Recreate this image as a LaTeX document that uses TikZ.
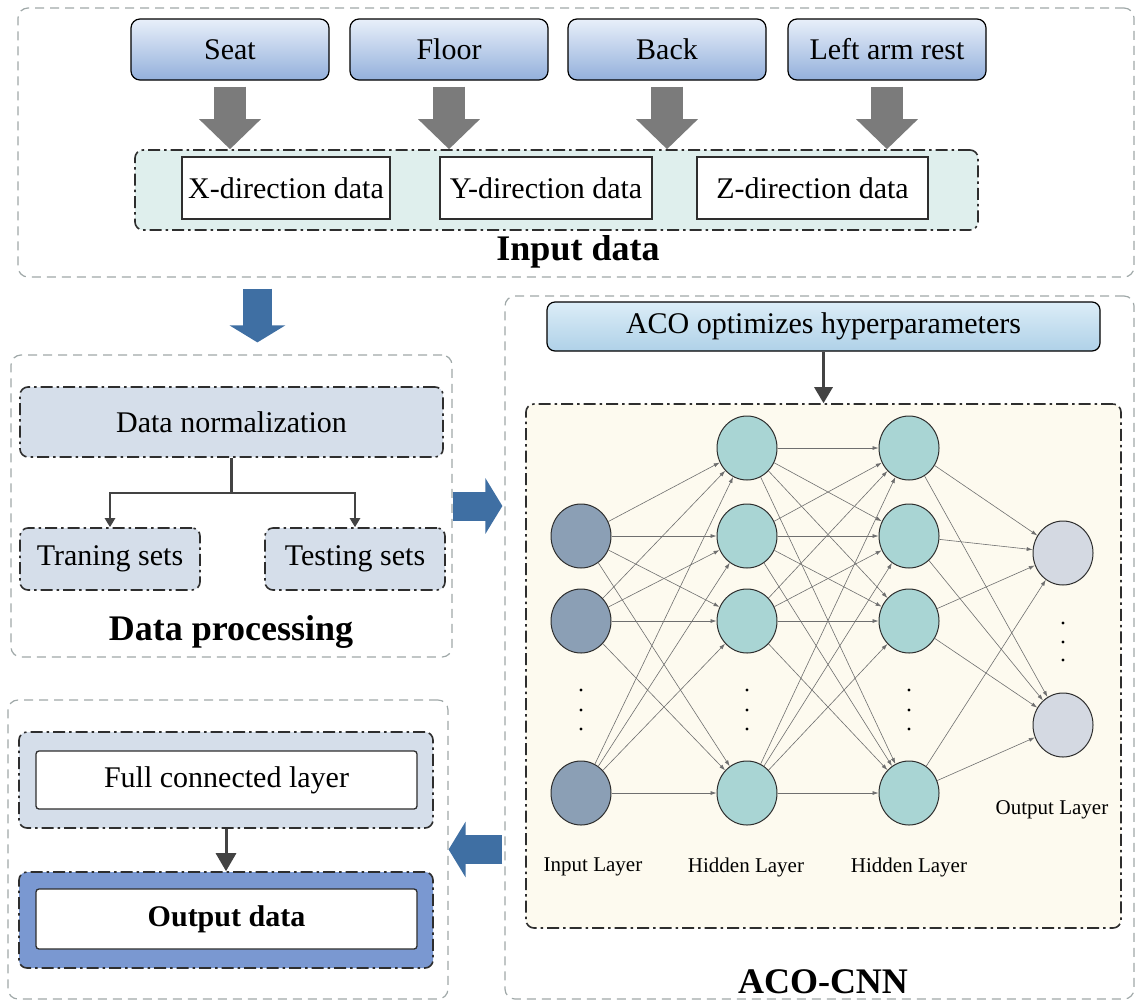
\documentclass[tikz,border=0pt]{standalone}
\usepackage{fontspec}
\setmainfont{Liberation Serif}
\usetikzlibrary{arrows.meta,positioning,calc,shapes.geometric}

\definecolor{groupgray}{HTML}{9FA8A8}
\definecolor{darkline}{HTML}{2E2E2E}
\definecolor{srctop}{HTML}{E8EFFA}
\definecolor{srcbot}{HTML}{93B0DB}
\definecolor{acotop}{HTML}{DCEDF7}
\definecolor{acobot}{HTML}{AFD1E8}
\definecolor{infill}{HTML}{DFEFED}
\definecolor{procfill}{HTML}{D5DEEA}
\definecolor{outfill}{HTML}{7A98D1}
\definecolor{netfill}{HTML}{FDFAEF}
\definecolor{inneuron}{HTML}{8B9FB5}
\definecolor{hidneuron}{HTML}{A9D5D4}
\definecolor{outneuron}{HTML}{D4D9E2}
\definecolor{fatgray}{HTML}{7B7B7B}
\definecolor{fatblue}{HTML}{3F6FA3}
\definecolor{edgegray}{HTML}{6F6F6F}

\newcommand{\normtxt}{\fontsize{30}{34}\selectfont}
\newcommand{\titletxt}{\fontsize{36}{40}\selectfont\bfseries}
\newcommand{\layertxt}{\fontsize{21}{24}\selectfont}

\tikzset{
  group/.style={draw=groupgray,dash pattern=on 9pt off 6pt,line width=1.2pt,rounded corners=10pt},
  dashdot/.style={draw=darkline,dash pattern=on 12pt off 4pt on 2.5pt off 4pt,line width=1.6pt,rounded corners=8pt},
  srcbox/.style={draw=black,line width=1.2pt,rounded corners=9pt,top color=srctop,bottom color=srcbot,
    minimum width=198pt,minimum height=61pt,font=\normtxt},
  databox/.style={draw=darkline,line width=1.3pt,fill=white,minimum height=62pt,font=\normtxt},
  neuron/.style={ellipse,draw=darkline,line width=1pt,minimum width=60pt,minimum height=64pt,inner sep=0pt},
  edge/.style={draw=edgegray,line width=0.6pt,-{Latex[length=6pt,width=4pt]}},
  conn/.style={draw=darkline!90,line width=2.5pt,-{Triangle[width=10pt,length=9pt]}},
  fatgrayarr/.style={draw=fatgray,line width=32pt,-{Triangle[width=60pt,length=30pt]}},
  fatbluearr/.style={draw=fatblue,line width=29pt,-{Triangle[width=55pt,length=17pt]}},
}

\begin{document}
\begin{tikzpicture}[x=1pt,y=-1pt]
\useasboundingbox (0,0) rectangle (1137,1002);

% Input data
\node[group,minimum width=1116pt,minimum height=269pt] (topbox) at (576,142.5) {};
\node[srcbox] (seat) at (230,49.5) {Seat};
\node[srcbox] (floor) at (449,49.5) {Floor};
\node[srcbox] (back) at (667,49.5) {Back};
\node[srcbox] (arm) at (887,49.5) {Left arm rest};
\node[dashdot,fill=infill,minimum width=843pt,minimum height=80pt] (inbox) at (556.5,190) {};
\node[databox,minimum width=208pt] (xdir) at (286,188) {X-direction data};
\node[databox,minimum width=212pt] (ydir) at (546,188) {Y-direction data};
\node[databox,minimum width=231pt] (zdir) at (812.5,188) {Z-direction data};
\node[font=\titletxt] (intitle) at (578,252) {Input data};

\foreach \n in {seat,floor,back,arm}
  \draw[fatgrayarr] ([yshift=-6pt]\n.south) -- (\n.south |- inbox.north);

% Data processing
\node[group,minimum width=441pt,minimum height=302pt] (dpbox) at (231.5,506) {};
\node[dashdot,fill=procfill,minimum width=423pt,minimum height=70pt,font=\normtxt] (norm) at (231.5,422) {Data normalization};
\node[dashdot,fill=procfill,minimum width=180pt,minimum height=62pt,font=\normtxt] (train) at (110,559) {Traning sets};
\node[dashdot,fill=procfill,minimum width=180pt,minimum height=62pt,font=\normtxt] (test) at (355,559) {Testing sets};
\node[font=\titletxt] (dptitle) at (231,632) {Data processing};

\draw[conn] (norm.south) -- ++(0,35) -| (train.north);
\draw[conn] (norm.south) -- ++(0,35) -| (test.north);

% ACO-CNN
\node[group,minimum width=629pt,minimum height=703pt] (acobox) at (819.5,647.5) {};
\node[draw=black,line width=1.2pt,rounded corners=8pt,top color=acotop,bottom color=acobot,
  minimum width=553pt,minimum height=49pt,font=\normtxt] (acoopt) at (823.5,326.5) {ACO optimizes hyperparameters};
\node[dashdot,fill=netfill,minimum width=595pt,minimum height=524pt] (nnbox) at (823.5,666) {};
\node[font=\titletxt] (acotitle) at (823,982) {ACO-CNN};

\draw[draw=darkline!90,line width=3pt,-{Triangle[width=18pt,length=16pt]}] (acoopt.south) -- (nnbox.north);

% neurons
\node[neuron,fill=inneuron] (in1) at (581,536) {};
\node[neuron,fill=inneuron] (in2) at (581,621) {};
\node[neuron,fill=inneuron] (in3) at (581,793) {};
\foreach \i/\y in {1/448,2/536,3/621,4/793}{
  \node[neuron,fill=hidneuron] (ha\i) at (747,\y) {};
  \node[neuron,fill=hidneuron] (hb\i) at (909,\y) {};
}
\node[neuron,fill=outneuron] (out1) at (1063,553) {};
\node[neuron,fill=outneuron] (out2) at (1063,725) {};

\foreach \a in {in1,in2,in3}
  \foreach \b in {ha1,ha2,ha3,ha4}
    \draw[edge] (\a) -- (\b);
\foreach \a in {ha1,ha2,ha3,ha4}
  \foreach \b in {hb1,hb2,hb3,hb4}
    \draw[edge] (\a) -- (\b);
\foreach \a in {hb1,hb2,hb3,hb4}
  \foreach \b in {out1,out2}
    \draw[edge] (\a) -- (\b);

% dots
\foreach \x in {581,747,909}
  \foreach \y in {690,710,729}
    \fill (\x,\y) circle (1.6pt);
\foreach \y in {623,642,660}
  \fill (1063,\y) circle (1.6pt);

\node[font=\layertxt] (inlabel) at (593,867) {Input Layer};
\node[font=\layertxt] (halabel) at (746,867) {Hidden Layer};
\node[font=\layertxt] (hblabel) at (909,867) {Hidden Layer};
\node[font=\layertxt] (outlabel) at (1052,810) {Output Layer};

% Output data
\node[group,minimum width=440pt,minimum height=299pt] (outbox) at (228,849.5) {};
\node[dashdot,fill=procfill,minimum width=414pt,minimum height=96pt] (fclbox) at (226,780) {};
\node[draw=darkline,line width=1.3pt,rounded corners=3pt,fill=white,minimum width=381pt,minimum height=58pt,font=\normtxt] (fcl) at (226.5,780) {Full connected layer};
\node[dashdot,fill=outfill,minimum width=414pt,minimum height=96pt] (resbox) at (226,920) {};
\node[draw=darkline,line width=1.3pt,rounded corners=3pt,fill=white,minimum width=381pt,minimum height=60pt,font=\normtxt\bfseries] (res) at (226.5,919) {Output data};

\draw[draw=darkline!90,line width=3pt,-{Triangle[width=20pt,length=18pt]}] (fclbox.south) -- (resbox.north);

% big blue arrows
\draw[fatbluearr] ([xshift=240pt,yshift=-11pt]topbox.south west) -- ([xshift=247pt,yshift=12pt]dpbox.north west);
\draw[fatbluearr] (dpbox.east) -- ([xshift=-2pt]dpbox.east -| acobox.west);
\draw[fatbluearr] ([xshift=-2pt]acobox.west |- outbox.east) -- (outbox.east);

\end{tikzpicture}
\end{document}
